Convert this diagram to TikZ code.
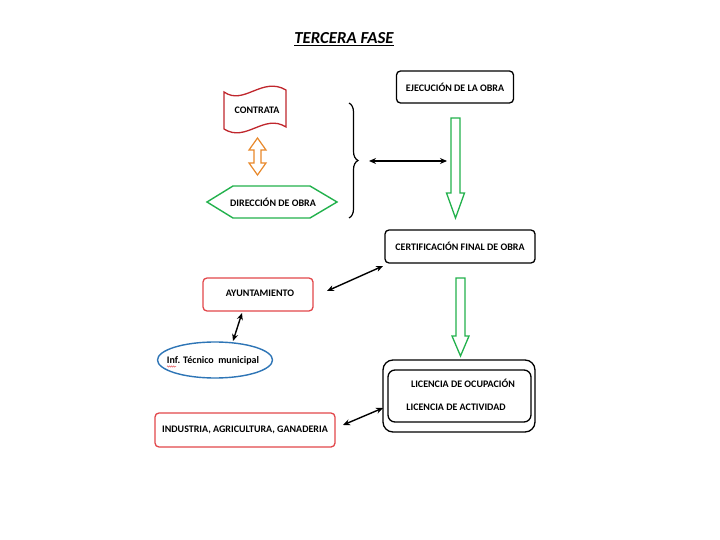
\documentclass[tikz,border=0pt]{standalone}
\usepackage{fontspec}
\setmainfont{Carlito}
\usetikzlibrary{decorations.pathreplacing,decorations.pathmorphing,shapes.geometric,arrows.meta}
\definecolor{cred}{HTML}{C0272D}
\definecolor{ared}{HTML}{E2474B}
\definecolor{cgreen}{HTML}{22B14C}
\definecolor{corange}{HTML}{E8882A}
\definecolor{cblue}{HTML}{2E75B6}
\begin{document}
\begin{tikzpicture}[x=1pt,y=-1pt,
  font=\fontsize{10}{12}\selectfont\bfseries,
  bbox/.style={draw=black, rounded corners=4pt, line width=1.3pt, inner sep=0pt},
  rbox/.style={draw=ared, rounded corners=4pt, line width=1.3pt, inner sep=0pt},
  lbl/.style={inner sep=0pt},
  dbl/.style={line width=1.4pt, {Stealth[length=7pt,width=6pt]}-{Stealth[length=7pt,width=6pt]}},
  hollow/.style={draw=cgreen, line width=1.3pt, fill=white, line join=miter}
]
\useasboundingbox (0,0) rectangle (720,540);
\fill[white] (0,0) rectangle (720,540);

% title
\node[lbl] (title) at (344,38) {\fontsize{16.8}{19}\selectfont\bfseries\itshape TERCERA FASE};
\draw[line width=1.1pt] ([yshift=-2pt]title.base west) -- ([yshift=-2pt]title.base east);

% boxes
\node[bbox, minimum width=117, minimum height=32] (ejec) at (455,87) {EJECUCIÓN DE LA OBRA};
\node[bbox, minimum width=150, minimum height=33] (cert) at (460,246.5) {CERTIFICACIÓN FINAL DE OBRA};
\node[rbox, minimum width=110, minimum height=33] (ayun) at (258,294.5) {};
\node[lbl] (ayuntxt) at (260,293) {AYUNTAMIENTO};
\node[rbox, minimum width=180, minimum height=34] (ind) at (245,430) {INDUSTRIA, AGRICULTURA, GANADERIA};

% licencias
\node[bbox, rounded corners=10pt, minimum width=152, minimum height=72] (licout) at (459,396) {};
\node[bbox, rounded corners=7pt, minimum width=143, minimum height=52] (licin) at (459.5,396) {};
\node[lbl] (lic1) at (463,383) {LICENCIA DE OCUPACIÓN};
\node[lbl] (lic2) at (456,407) {LICENCIA DE ACTIVIDAD};

% ellipse
\node[ellipse, draw=cblue, line width=1.4pt, minimum width=115, minimum height=36, inner sep=0pt] (inf) at (215,360) {};
\node[lbl] (inftxt) at (213,361) {Inf. Técnico\hspace{0.45em}municipal};
\draw[ared, line width=0.5pt, decorate, decoration={snake, amplitude=0.6pt, segment length=2pt}] (167,366.5) -- (176,366.5);

% contrata flag
\draw[cred, line width=1.3pt, fill=white] (224,92) .. controls (244,106) and (262,76) .. (286,90)
  -- (286,127) .. controls (264,113) and (246,143) .. (224,129) -- cycle;
\node[lbl] (contrata) at (257,110) {CONTRATA};

% direccion hexagon
\draw[cgreen, line width=1.4pt] (207,202) -- (233,186) -- (310,186) -- (337,202) -- (310,218) -- (233,218) -- cycle;
\node[lbl] (dir) at (273,202) {DIRECCIÓN DE OBRA};

% orange hollow double arrow
\draw[corange, line width=1.2pt, fill=white] (257.5,138) -- (266,150) -- (261,150) -- (261,163) -- (266,163)
  -- (257.5,175) -- (249,163) -- (254,163) -- (254,150) -- (249,150) -- cycle;

% brace
\draw[line width=1.2pt, decorate, decoration={brace, amplitude=9pt}] (349,103) -- (349,218);
\coordinate (bracetip) at (369,161);
\coordinate (g1left) at (447,161);
\draw[dbl] (bracetip) -- (g1left);

% green hollow arrows
\draw[hollow] (451,118) -- (460,118) -- (460,193) -- (464.5,193) -- (455.5,218) -- (446.5,193) -- (451,193) -- cycle;
\draw[hollow] (456,278) -- (465,278) -- (465,336) -- (469,336) -- (460.5,356) -- (452,336) -- (456,336) -- cycle;

% black connectors
\coordinate (a1) at (327,291);
\coordinate (c1) at (383,266);
\draw[dbl] (a1) -- (c1);
\coordinate (a2) at (242,313);
\coordinate (i2) at (233,341);
\draw[dbl] (a2) -- (i2);
\coordinate (n3) at (343,425);
\coordinate (l3) at (383,408);
\draw[dbl] (n3) -- (l3);
\end{tikzpicture}
\end{document}
